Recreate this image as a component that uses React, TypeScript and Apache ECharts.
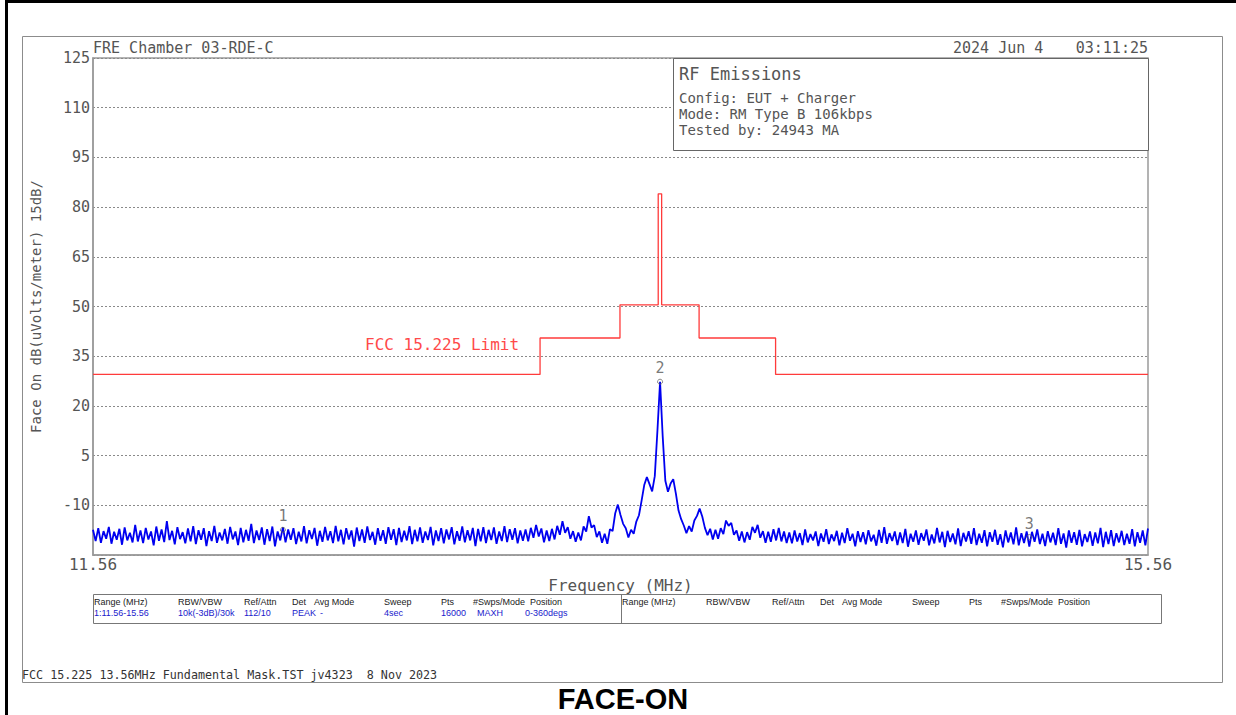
import React, { useEffect, useRef } from "react";
import * as echarts from "echarts";

// ---------- data ----------
const FREQ_START = 11.56;
const FREQ_STOP = 15.56;
const SWEEP_STEP = 0.01; // MHz between trace points
const Y_MIN = -25;
const Y_MAX = 125;
const Y_STEP = 15;

// measured trace (dBuV/m), three sweep segments
const traceLeftStart = 11.56;
const traceLeft = [
  -17.4, -20.8, -16.9, -21.3, -17.8, -20.1, -16.5, -21.6, -18.0, -20.4,
  -17.1, -21.9, -16.7, -20.6, -18.3, -21.2, -15.9, -20.9, -17.6, -21.4,
  -16.8, -20.3, -17.9, -22.1, -16.4, -20.7, -17.3, -21.1, -14.8, -20.5,
  -17.7, -21.8, -16.6, -20.2, -18.1, -21.5, -17.0, -20.9, -16.3, -21.7,
  -17.5, -20.4, -16.9, -22.3, -17.8, -20.8, -16.2, -21.3, -18.2, -20.6,
  -17.1, -21.6, -16.5, -20.3, -17.9, -22.0, -16.8, -21.2, -17.4, -20.7,
  -15.6, -21.4, -17.6, -20.5, -16.7, -21.9, -17.2, -20.8, -16.4, -22.4,
  -17.9, -20.6, -16.6, -21.2, -17.3, -20.4, -16.9, -21.7, -18.0, -20.9,
  -16.3, -21.5, -17.5, -20.2, -16.8, -22.2, -17.7, -21.0, -16.5, -20.6,
  -17.8, -21.4, -16.2, -20.9, -17.4, -21.8, -16.9, -20.3, -17.6, -22.5,
  -16.7, -20.8, -17.3, -21.3, -16.4, -20.5, -18.0, -21.9, -16.9, -20.7,
  -17.5, -21.6, -16.6, -20.4, -17.2, -22.0, -16.8, -21.1, -17.7, -20.6,
  -16.3, -21.7, -17.4, -20.9, -16.7, -21.3, -17.9, -20.5, -16.5, -22.1,
  -17.6, -20.8, -16.9, -21.5, -17.3, -20.3, -16.6, -21.8, -17.8, -20.7,
  -16.4, -21.2, -17.5, -20.6, -16.8, -22.3, -17.1, -20.9, -16.6, -21.4,
  -17.4, -20.5, -16.7, -21.6, -17.9, -20.8, -16.3, -21.1, -17.2, -20.4,
  -16.9, -21.5, -17.6, -20.7,
];
const traceCenterStart = 13.2;
const traceCenter = [
  -17.3, -20.9, -16.8, -19.8, -15.9, -19.4, -17.0, -21.2, -17.6, -20.8,
  -17.1, -20.3, -16.2, -18.9, -14.8, -18.3, -16.6, -20.1, -17.8, -21.0,
  -18.2, -20.6, -16.4, -17.9, -13.3, -16.7, -16.0, -19.6, -17.9, -21.3,
  -18.6, -21.6, -17.2, -17.8, -12.4, -9.8, -12.9, -15.6, -16.9, -19.7,
  -17.4, -18.6, -14.9, -13.0, -8.6, -3.9, -1.5, -3.6, -5.8, -1.2,
  12.5, 27.3, 10.8, -2.6, -5.9, -3.4, -2.1, -6.5, -11.6, -14.2,
  -16.1, -18.4, -16.3, -17.9, -14.6, -13.2, -11.0, -13.4, -16.8, -19.0,
  -17.1, -20.3, -17.4, -20.1, -16.9, -18.7, -14.6, -16.2, -15.3, -18.9,
  -17.6, -20.7, -17.9, -21.2, -18.1, -20.4, -16.5, -18.3, -15.9, -19.8,
  -17.8, -21.3, -18.0, -21.0, -17.2, -20.6, -16.8, -20.9, -17.9, -21.4,
];
const traceRightStart = 14.2;
const traceRight = [
  -18.2, -21.5, -17.6, -20.9, -18.4, -22.0, -17.3, -21.2, -18.7, -20.6,
  -17.9, -22.3, -18.5, -21.0, -17.2, -21.7, -18.8, -20.8, -17.7, -22.1,
  -18.3, -21.4, -16.9, -20.7, -18.6, -22.4, -17.8, -21.1, -18.1, -21.8,
  -17.5, -20.9, -18.9, -22.2, -17.4, -21.3, -16.6, -21.6, -18.4, -20.8,
  -17.9, -22.0, -18.2, -21.4, -17.1, -22.5, -18.6, -21.0, -17.6, -21.9,
  -18.4, -20.7, -17.3, -22.1, -18.8, -21.5, -16.8, -21.2, -18.0, -22.6,
  -17.7, -21.1, -18.5, -21.8, -17.0, -22.3, -18.3, -20.9, -17.8, -21.6,
  -16.9, -22.0, -18.6, -21.3, -17.5, -22.4, -18.1, -21.0, -17.4, -21.9,
  -18.7, -22.7, -17.6, -21.2, -18.2, -21.8, -16.7, -22.1, -18.4, -21.4,
  -17.9, -22.5, -18.0, -21.0, -17.3, -21.7, -18.6, -22.3, -17.8, -21.2,
  -18.3, -22.0, -16.9, -21.6, -18.5, -22.8, -17.6, -21.3, -18.1, -21.9,
  -17.4, -22.4, -18.7, -21.1, -17.9, -22.2, -18.2, -21.5, -16.8, -22.6,
  -18.0, -21.7, -17.5, -22.3, -18.4, -21.2, -17.7, -22.0, -18.6, -21.6,
  -17.2, -22.4, -18.1, -21.3, -17.6, -22.1, -17.0,
];

// FCC 15.225 limit mask as drawn
const limitFreqs = [11.56, 13.255, 13.255, 13.558, 13.558, 13.703, 13.703, 13.716, 13.716, 13.858, 13.858, 14.148, 14.148, 15.56];
const limitLevels = [29.5, 29.5, 40.5, 40.5, 50.5, 50.5, 84, 84, 50.5, 50.5, 40.5, 40.5, 29.5, 29.5];

// markers
const markerNames = ["1", "2", "3"];
const markerFreqs = [12.28, 13.71, 15.11];
const markerLevels = [-17.4, 27.3, -19.6];

// x tick labels
const xTickValues = [11.56, 15.56];

// texts
const titleLeft = "FRE Chamber 03-RDE-C";
const dateText = "2024 Jun 4";
const timeText = "03:11:25";
const infoTitle = "RF Emissions";
const infoLines = ["Config: EUT + Charger", "Mode: RM Type B 106kbps", "Tested by: 24943 MA"];
const limitLabel = "FCC 15.225 Limit";
const tableHeaders = ["Range (MHz)", "RBW/VBW", "Ref/Attn", "Det", "Avg Mode", "Sweep", "Pts", "#Swps/Mode", "Position"];
const tableValues = ["1:11.56-15.56", "10k(-3dB)/30k", "112/10", "PEAK", "-", "4sec", "16000", "MAXH", "0-360degs"];
const footerText = "FCC 15.225 13.56MHz Fundamental Mask.TST jv4323  8 Nov 2023";
const captionText = "FACE-ON";

// ---------- layout ----------
const MONO = "'DejaVu Sans Mono', 'Liberation Mono', monospace";
const SMALL = "'Liberation Sans', Arial, sans-serif";
const GRID = { left: 93, top: 58, right: 88, bottom: 160 };
const headerOffsets = [1, 85, 151, 199, 221, 291, 348, 380, 437];
const valueOffsets = [1, 85, 151, 199, 227, 291, 348, 384, 432];
const TABLE_X = 93;
const TABLE_Y = 594;
const TABLE_W = 1068;
const TABLE_H = 29;
const TABLE_HALF = 528;

function segment(start: number, vals: number[]) {
  return vals.map((v, i) => [+(start + i * SWEEP_STEP).toFixed(3), v]);
}

export default function App() {
  const ref = useRef<HTMLDivElement>(null);

  useEffect(() => {
    if (!ref.current) return;
    const chart = echarts.init(ref.current, null, { renderer: "svg" });

    const traceData = [
      ...segment(traceLeftStart, traceLeft),
      ...segment(traceCenterStart, traceCenter),
      ...segment(traceRightStart, traceRight),
    ];
    const limitData = limitFreqs.map((f, i) => [f, limitLevels[i]]);
    const markerData = markerFreqs.map((f, i) => ({ name: markerNames[i], value: [f, markerLevels[i]] }));

    const txt = (text: string, x: number, y: number, opts: any = {}) => ({
      type: "text",
      z: 20,
      style: {
        text,
        x,
        y,
        fill: opts.fill || "#555",
        fontSize: opts.fontSize || 15,
        fontFamily: opts.fontFamily || MONO,
        fontWeight: opts.fontWeight || "normal",
        align: opts.align || "left",
        verticalAlign: "middle",
      },
    });

    const tableEls: any[] = [];
    [0, TABLE_HALF].forEach((dx, half) => {
      tableHeaders.forEach((h, i) => {
        tableEls.push(txt(h, TABLE_X + dx + headerOffsets[i], 602, { fontSize: 9, fontFamily: SMALL, fill: "#222" }));
      });
      if (half === 0) {
        tableValues.forEach((v, i) => {
          tableEls.push(txt(v, TABLE_X + valueOffsets[i], 613, { fontSize: 9, fontFamily: SMALL, fill: "#1a1acc" }));
        });
      }
    });

    const option: any = {
      animation: false,
      backgroundColor: "#fff",
      grid: {
        ...GRID,
        show: true,
        borderColor: "#9a9a9a",
        borderWidth: 1.5,
        backgroundColor: "transparent",
      },
      xAxis: {
        type: "value",
        min: FREQ_START,
        max: FREQ_STOP,
        axisLine: { show: true, onZero: false, lineStyle: { color: "#9a9a9a", width: 1.5 } },
        axisTick: { show: false },
        splitLine: { show: false },
        axisLabel: {
          customValues: xTickValues,
          formatter: (v: number) => v.toFixed(2),
          fontSize: 16,
          fontFamily: MONO,
          color: "#555",
          margin: 1,
          showMinLabel: true,
          showMaxLabel: true,
        },
        name: "Frequency (MHz)",
        nameLocation: "middle",
        nameGap: 22,
        nameTextStyle: { fontSize: 16, fontFamily: MONO, color: "#555" },
      },
      yAxis: {
        type: "value",
        min: Y_MIN,
        max: Y_MAX,
        interval: Y_STEP,
        axisLine: { show: true, lineStyle: { color: "#9a9a9a", width: 1.5 } },
        axisTick: { show: false },
        splitLine: { show: true, lineStyle: { color: "#8a8a8a", type: [2, 2], width: 1 } },
        axisLabel: {
          formatter: (v: number) => (v === Y_MIN ? "" : String(v)),
          fontSize: 15,
          fontFamily: MONO,
          color: "#555",
          margin: 3,
        },
        name: "Face On dB(uVolts/meter) 15dB/",
        nameLocation: "middle",
        nameRotate: 90,
        nameGap: 50,
        nameTextStyle: { fontSize: 14, fontFamily: MONO, color: "#555" },
      },
      series: [
        {
          type: "line",
          data: limitData,
          showSymbol: false,
          lineStyle: { color: "#ff3b3b", width: 1.3 },
          z: 3,
        },
        {
          type: "line",
          data: traceData,
          showSymbol: false,
          lineStyle: { color: "#0000f0", width: 1.8 },
          z: 4,
        },
        {
          type: "scatter",
          data: markerData,
          symbol: "circle",
          symbolSize: 5,
          itemStyle: { color: "rgba(255,255,255,0)", borderColor: "#666", borderWidth: 1 },
          label: {
            show: true,
            formatter: (p: any) => p.name,
            position: "top",
            distance: 3,
            fontSize: 15,
            fontFamily: MONO,
            color: "#555",
          },
          z: 5,
        },
      ],
      graphic: [
        // outer black frame
        {
          type: "rect",
          z: 30,
          shape: { x: 6.5, y: 1.5, width: 1400, height: 900 },
          style: { fill: "none", stroke: "#000", lineWidth: 3 },
        },
        // inner gray frame
        {
          type: "rect",
          z: 1,
          shape: { x: 22.5, y: 36.5, width: 1200, height: 646 },
          style: { fill: "none", stroke: "#8c8c8c", lineWidth: 1 },
        },
        // info box
        {
          type: "rect",
          z: 15,
          shape: { x: 673.5, y: 58.5, width: 475, height: 92 },
          style: { fill: "#fff", stroke: "#666", lineWidth: 1 },
        },
        txt(infoTitle, 679, 74, { fontSize: 17 }),
        txt(infoLines[0], 679, 98, { fontSize: 14 }),
        txt(infoLines[1], 679, 114, { fontSize: 14 }),
        txt(infoLines[2], 679, 130, { fontSize: 14 }),
        txt(titleLeft, 93, 48, { fontSize: 15 }),
        txt(dateText, 953, 48, { fontSize: 15 }),
        txt(timeText, 1148, 48, { fontSize: 15, align: "right" }),
        txt(limitLabel, 365, 344, { fontSize: 16, fill: "#ff4a4a" }),
        // parameter table
        {
          type: "rect",
          z: 1,
          shape: { x: TABLE_X + 0.5, y: TABLE_Y + 0.5, width: TABLE_W, height: TABLE_H },
          style: { fill: "none", stroke: "#777", lineWidth: 1 },
        },
        {
          type: "line",
          z: 1,
          shape: { x1: 621.5, y1: TABLE_Y + 0.5, x2: 621.5, y2: TABLE_Y + TABLE_H + 0.5 },
          style: { stroke: "#777", lineWidth: 1 },
        },
        ...tableEls,
        txt(footerText, 22, 675, { fontSize: 11.7, fill: "#333" }),
        txt(captionText, 623, 699, {
          fontSize: 29,
          fontFamily: "'Liberation Sans', Arial, sans-serif",
          fontWeight: "bold",
          fill: "#000",
          align: "center",
        }),
      ],
    };

    chart.setOption(option);
    return () => chart.dispose();
  }, []);

  return (
    <div
      ref={ref}
      style={{ position: "fixed", left: 0, top: 0, width: 1236, height: 715, background: "#fff" }}
    />
  );
}
